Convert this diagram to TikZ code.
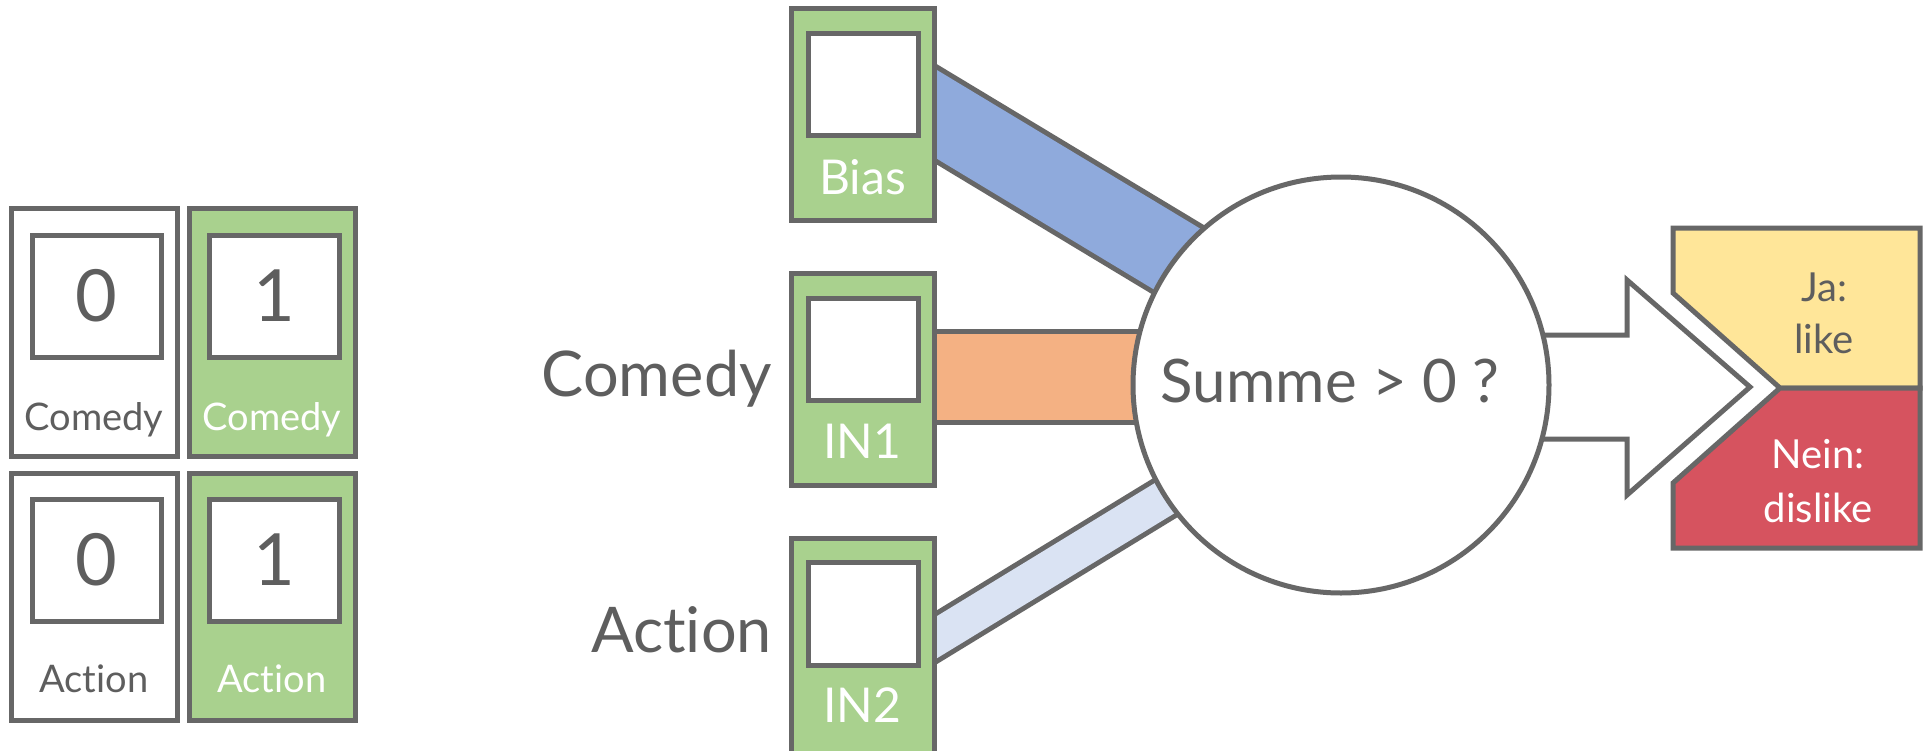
\documentclass[tikz,border=0pt]{standalone}
\usepackage{fontspec}
\setmainfont{Lato}[Ligatures={NoCommon,NoRare,NoContextual}]
\usetikzlibrary{calc}
\definecolor{lineg}{HTML}{676767}
\definecolor{txtg}{HTML}{5E5E5E}
\definecolor{cgreen}{HTML}{A9D18E}
\definecolor{cblue}{HTML}{8FAADC}
\definecolor{corange}{HTML}{F4B183}
\definecolor{clblue}{HTML}{DAE3F3}
\definecolor{cyellow}{HTML}{FFE699}
\definecolor{cred}{HTML}{D6535F}
\begin{document}
\begin{tikzpicture}[x=1pt,y=-1pt,
  fs/.style={font=\fontsize{#1}{#1}\selectfont},
  cardbox/.style={draw=lineg, line width=5pt, inner sep=0pt, minimum width=166pt, minimum height=248pt},
  midcard/.style={draw=lineg, line width=5pt, inner sep=0pt, fill=cgreen, minimum width=143pt, minimum height=212pt},
  slotbox/.style={draw=lineg, line width=5pt, inner sep=0pt, fill=white},
  band/.style={draw=lineg, line width=5pt, double=#1},
  ttext/.style={text=txtg, inner sep=0pt, anchor=base},
  wtext/.style={text=white, inner sep=0pt, anchor=base},
]
\useasboundingbox (0,0) rectangle (1923,750);
\fill[white] (0,0) rectangle (1923,750);

% ---------- bands (connectors) ----------
\coordinate (b1s) at (884,82.5);
\coordinate (b1e) at (1250,303);
\coordinate (b2s) at (880,376.5);
\coordinate (b2e) at (1250,376.5);
\coordinate (b3s) at (884,669.5);
\coordinate (b3e) at (1250,446);
\draw[band=cblue, double distance=76pt] (b1s) -- (b1e);
\draw[band=corange, double distance=86pt] (b2s) -- (b2e);
\draw[band=clblue, double distance=36pt] (b3s) -- (b3e);

% ---------- output arrow ----------
\draw[draw=lineg, line width=5pt, fill=white, line join=miter]
  (1500,335) -- (1627,335) -- (1627,280) -- (1750,387) -- (1627,495) -- (1627,439) -- (1500,439) -- cycle;

% ---------- summation circle ----------
\node[circle, draw=lineg, line width=5pt, fill=white, minimum size=416pt, inner sep=0pt] (sum) at (1341,385) {};
\node[ttext, fs=60] (sumtxt) at (1330,402) {Summe > 0 ?};

% ---------- output box ----------
\draw[draw=lineg, line width=5pt, fill=cyellow, line join=miter]
  (1673,228) -- (1920,228) -- (1920,388) -- (1780,388) -- (1673,293) -- cycle;
\draw[draw=lineg, line width=5pt, fill=cred, line join=miter]
  (1780,388) -- (1920,388) -- (1920,548) -- (1673,548) -- (1673,483) -- cycle;
\node[ttext, fs=40] (ja1) at (1824,301) {Ja:};
\node[ttext, fs=40] (ja2) at (1824,353) {like};
\node[wtext, fs=40] (ne1) at (1818,468) {Nein:};
\node[wtext, fs=40] (ne2) at (1818,522) {dislike};

% ---------- middle input cards ----------
\node[midcard] (bias) at (862.5,114) {};
\node[slotbox, minimum width=110pt, minimum height=102pt] (biasslot) at (863,84) {};
\node[wtext, fs=48] (biastxt) at (862.5,194) {Bias};

\node[midcard] (inone) at (862.5,379) {};
\node[slotbox, minimum width=110pt, minimum height=102pt] (inoneslot) at (863,349) {};
\node[wtext, fs=48] (inonetxt) at (862.5,458) {IN1};

\node[midcard, minimum height=220pt] (intwo) at (862.5,648) {};
\node[slotbox, minimum width=110pt, minimum height=103pt] (intwoslot) at (863,613.5) {};
\node[wtext, fs=48] (intwotxt) at (862.5,722) {IN2};

\node[ttext, fs=63, anchor=base east] (lcomedy) at (772,396) {Comedy};
\node[ttext, fs=63, anchor=base east] (laction) at (772,652) {Act\kern0pt ion};

% ---------- left example cards ----------
\node[cardbox, fill=white] (ca) at (94,332) {};
\node[slotbox, minimum width=129pt, minimum height=122pt] (caslot) at (96.5,296) {};
\node[text=txtg, fs=72, inner sep=0pt] (canum) at (caslot.center) {0};
\node[ttext, fs=38] (catxt) at (94,430) {Comedy};

\node[cardbox, fill=cgreen] (cb) at (272,332) {};
\node[slotbox, minimum width=130pt, minimum height=122pt] (cbslot) at (274,296) {};
\node[text=txtg, fs=72, inner sep=0pt] (cbnum) at (cbslot.center) {1};
\node[wtext, fs=38] (cbtxt) at (272,430) {Comedy};

\node[cardbox, fill=white, minimum height=247pt] (cc) at (94,596.5) {};
\node[slotbox, minimum width=129pt, minimum height=122pt] (ccslot) at (96.5,560) {};
\node[text=txtg, fs=72, inner sep=0pt] (ccnum) at (ccslot.center) {0};
\node[ttext, fs=38] (cctxt) at (94,692) {Act\kern0pt ion};

\node[cardbox, fill=cgreen, minimum height=247pt] (cd) at (272,596.5) {};
\node[slotbox, minimum width=130pt, minimum height=122pt] (cdslot) at (274,560) {};
\node[text=txtg, fs=72, inner sep=0pt] (cdnum) at (cdslot.center) {1};
\node[wtext, fs=38] (cdtxt) at (272,692) {Act\kern0pt ion};
\end{tikzpicture}
\end{document}
